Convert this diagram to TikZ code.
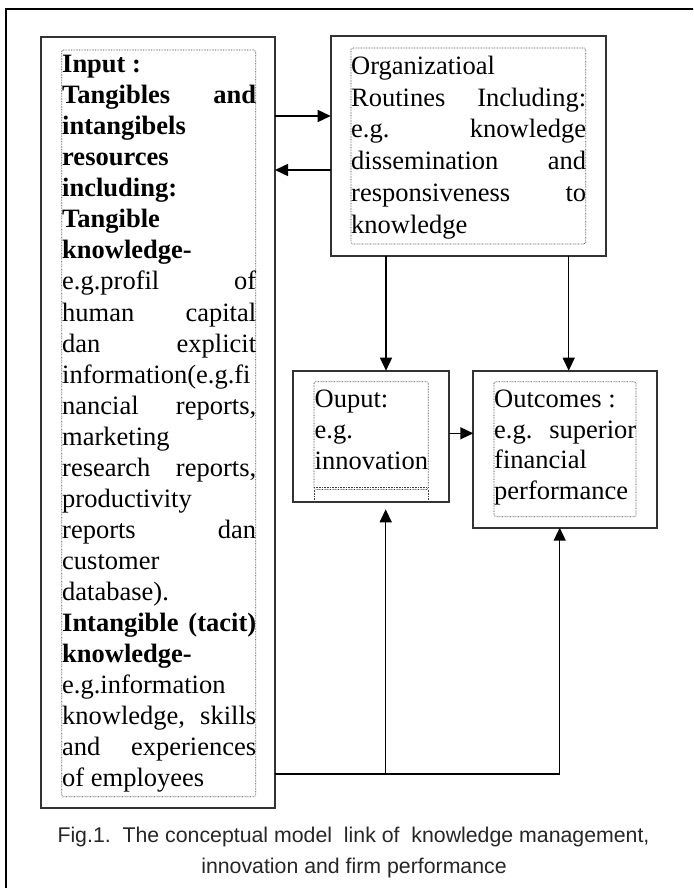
\documentclass[tikz,border=0pt]{standalone}
\usepackage{fontspec}
\newfontfamily\capfont{Liberation Sans}
\newfontfamily\palfont{Liberation Serif}
\newcommand\tline[1]{\hbox to \hsize{#1}}
\usetikzlibrary{arrows.meta}
\begin{document}
\begin{tikzpicture}[x=1pt,y=-1pt,
  frame/.style={draw=black,line width=2pt},
  kbox/.style={draw=black!80,fill=white,line width=1.7pt,inner sep=0pt,outer sep=0pt},
  dotbox/.style={draw=black!75,line width=0.7pt,dash pattern=on 0.7pt off 0.9pt,rounded corners=1.5pt},
  conn/.style={line width=1.5pt,draw=black},
  arr/.style={conn,-{Triangle[length=13pt,width=12pt]}},
  txt/.style={inner sep=0pt,anchor=base west},
  captxt/.style={inner sep=0pt,anchor=base,font=\capfont\fontsize{21.3}{25}\selectfont,text=black!85}]

\useasboundingbox (0,0) rectangle (693,888);
\fill[white] (0,0) rectangle (693,888);
\begin{scope}
  \clip (0,0) rectangle (693,888);
  \draw[frame] (6,9) rectangle (720,920);
\end{scope}

% boxes
\node[kbox,minimum width=234.3pt,minimum height=771pt] (input) at (157.85,422.5) {};
\node[kbox,minimum width=275.3pt,minimum height=220pt] (org) at (468.35,146) {};
\node[kbox,minimum width=156pt,minimum height=131.6pt] (out) at (371.3,436.5) {};
\node[kbox,minimum width=183.4pt,minimum height=157pt] (outc) at (565,449.2) {};

% dotted inner frames
\draw[dotbox] (61.7,50) rectangle (255.7,796.7);
\draw[dotbox] (351,48) rectangle (585.7,244);
\draw[dotbox] (314,381.7) rectangle (428.3,489.5);
\draw[dotbox,rounded corners=0pt] (314,487.6) -- (428.3,487.6);
\draw[dotbox,rounded corners=0pt] (314,489.5) -- (314,503.5);
\draw[dotbox,rounded corners=0pt] (428.3,489.5) -- (428.3,503.5);
\draw[dotbox] (494,381.7) rectangle (636,516.7);

% texts
\node[txt] (inputtext) at (62,72.7) {\vtop{\palfont\fontsize{26.5}{31.04}\selectfont
  \hsize=194pt \baselineskip=31.04pt \lineskiplimit=-100pt \lineskip=0pt
  \bfseries
  \tline{Input :\hss}
  \tline{Tangibles\hfill and}
  \tline{intangibels\hss}
  \tline{resources\hss}
  \tline{including:\hss}
  \tline{Tangible\hss}
  \tline{knowledge-\hss}
  \mdseries
  \tline{e.g.profil\hfill of}
  \tline{human\hfill capital}
  \tline{dan\hfill explicit}
  \tline{information(e.g.fi\hss}
  \tline{nancial\hfill reports,}
  \tline{marketing\hss}
  \tline{research\hfill reports,}
  \tline{productivity\hss}
  \tline{reports\hfill dan}
  \tline{customer\hss}
  \tline{database).\hss}
  \bfseries
  \tline{Intangible\hfill (tacit)}
  \tline{knowledge-\hss}
  \mdseries
  \tline{e.g.information\hss}
  \tline{knowledge,\hfill skills}
  \tline{and\hfill experiences}
  \tline{of employees\hss}}};

\node[txt] (orgtext) at (351,74.3) {\vtop{\palfont\fontsize{26.5}{31.8}\selectfont
  \hsize=235pt \baselineskip=31.8pt \lineskiplimit=-100pt \lineskip=0pt
  \tline{Organizatioal\hss}
  \tline{Routines\hfill Including:}
  \tline{e.g.\hfill knowledge}
  \tline{dissemination\hfill and}
  \tline{responsiveness\hfill to}
  \tline{knowledge\hss}}};

\node[txt] (outtext) at (314.5,407.3) {\vtop{\palfont\fontsize{26.5}{31}\selectfont
  \hsize=114pt \baselineskip=31pt \lineskiplimit=-100pt \lineskip=0pt
  \tline{Ouput:\hss}
  \tline{e.g.\hss}
  \tline{innovation\hss}}};

\node[txt] (outctext) at (494,407.3) {\vtop{\palfont\fontsize{26.5}{30.7}\selectfont
  \hsize=142pt \baselineskip=30.7pt \lineskiplimit=-100pt \lineskip=0pt
  \tline{Outcomes :\hss}
  \tline{e.g.\hfill superior}
  \tline{financial\hss}
  \tline{performance\hss}}};

% connectors
\draw[arr] (input.east |- 0,116) -- (org.west |- 0,116);
\draw[arr] (org.west |- 0,170) -- (input.east |- 0,170);
\draw[arr] (org.south -| 386,0) -- (out.north -| 386,0);
\draw[arr] (org.south -| 568.7,0) -- (outc.north -| 568.7,0);
\draw[arr] (out.east |- 0,433.3) -- (outc.west |- 0,433.3);

\coordinate (fb1) at (385.7,774);
\coordinate (fb2) at (559.7,774);
\draw[conn] (input.east |- fb1) -- (fb2);
\draw[arr,shorten >=7pt] (fb1) -- (out.south -| fb1);
\draw[arr] (fb2) -- (outc.south -| fb2);

% caption
\node[captxt] (cap1) at (353.5,842) {Fig.1.\ \ The conceptual model\ \ link of\ \ knowledge management,};
\node[captxt] (cap2) at (354,873) {innovation and firm performance};
\end{tikzpicture}
\end{document}
